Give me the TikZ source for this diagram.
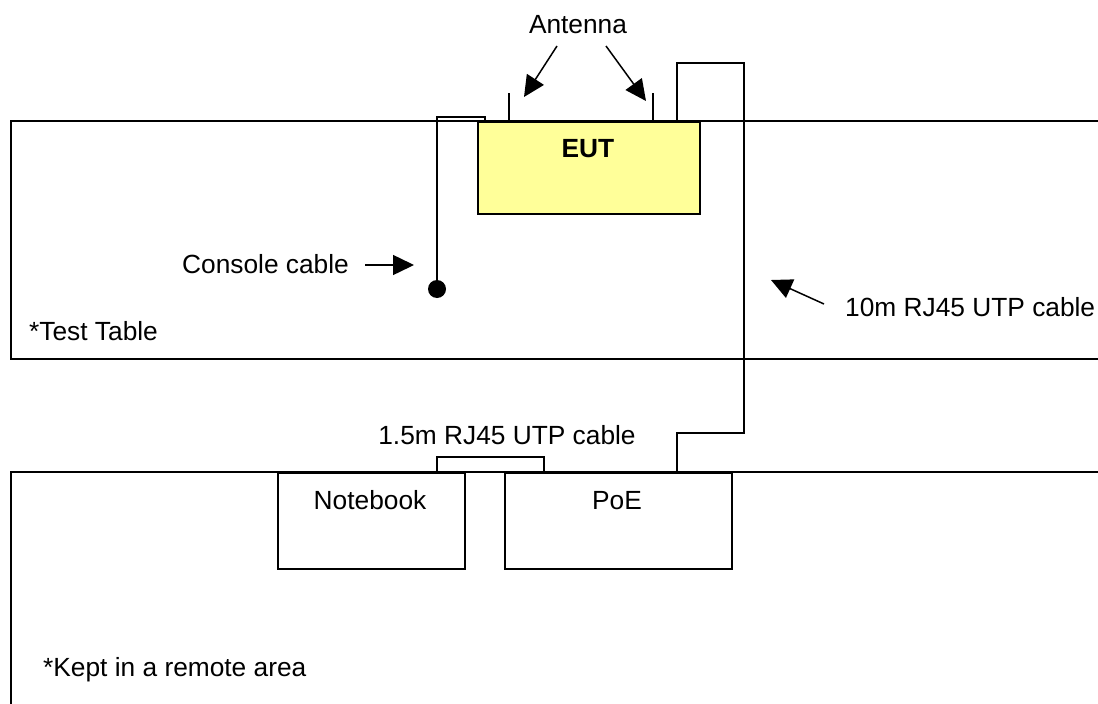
\documentclass[tikz,border=0pt]{standalone}
\usepackage{fontspec}
\setmainfont{Liberation Sans}
\usetikzlibrary{arrows.meta}
\definecolor{euty}{HTML}{FFFF99}
\begin{document}
\begin{tikzpicture}[x=1pt,y=-1pt,
  ln/.style={line width=1.6pt},
  thin/.style={line width=1.3pt},
  lbl/.style={inner sep=0pt,font=\fontsize{26.3}{30}\selectfont},
  arr/.style={line width=1.5pt,-{Triangle[length=21pt,width=20pt]}},
  boxnode/.style={draw,line width=1.6pt,inner sep=0pt,anchor=north west}]
\useasboundingbox (0,0) rectangle (1098,704);
\clip (0,0) rectangle (1098,704);
% tables
\draw[ln] (1110,121) -- (11,121) -- (11,359) -- (1110,359);
\draw[ln] (1110,472) -- (11,472) -- (11,720);
% EUT
\node[boxnode,fill=euty,minimum width=222pt,minimum height=92pt] (eut) at (477,121) {};
\node[lbl,anchor=base,font=\fontsize{26.3}{30}\selectfont\bfseries] (eutl) at (588,157) {EUT};
% antennas
\coordinate (a1b) at (509,121); \coordinate (a1t) at (509,93);
\coordinate (a2b) at (653,121); \coordinate (a2t) at (653,93);
\draw[thin] (a1b) -- (a1t);
\draw[thin] (a2b) -- (a2t);
\node[lbl,anchor=base] (ant) at (578,33) {Antenna};
\draw[arr] (557,46) -- (524,97);
\draw[arr] (606,46) -- (646,101);
% console cable
\coordinate (cc1) at (485,121);
\coordinate (dot) at (437,289);
\draw[thin] (cc1) -- (485,117) -- (437,117) -- (dot);
\fill (dot) circle (9pt);
\node[lbl,anchor=base west] (ccl) at (182,273) {Console cable};
\draw[arr] (365,265) -- (414,265);
% bottom devices
\node[boxnode,minimum width=187pt,minimum height=96pt] (nb) at (277,472) {};
\node[lbl,anchor=base] at (370,509) {Notebook};
\node[boxnode,minimum width=227pt,minimum height=96pt] (poe) at (504,472) {};
\node[lbl,anchor=base] at (617,509) {PoE};
% 1.5m cable
\coordinate (c15a) at (437,472);
\coordinate (c15b) at (544,472);
\draw[thin] (c15a) -- (437,457) -- (544,457) -- (c15b);
\node[lbl,anchor=base] (c15l) at (507,444) {1.5m RJ45 UTP cable};
% 10m cable
\coordinate (c10a) at (677,121);
\coordinate (c10b) at (677,472);
\draw[ln] (c10a) -- (677,63) -- (744,63) -- (744,433) -- (677,433) -- (c10b);
\node[lbl,anchor=base west] (c10l) at (845,316) {10m RJ45 UTP cable};
\draw[arr] (824,304) -- (771,280);
% notes
\node[lbl,anchor=base west] at (29,340) {*Test Table};
\node[lbl,anchor=base west] at (43,676) {*Kept in a remote area};
\end{tikzpicture}
\end{document}
